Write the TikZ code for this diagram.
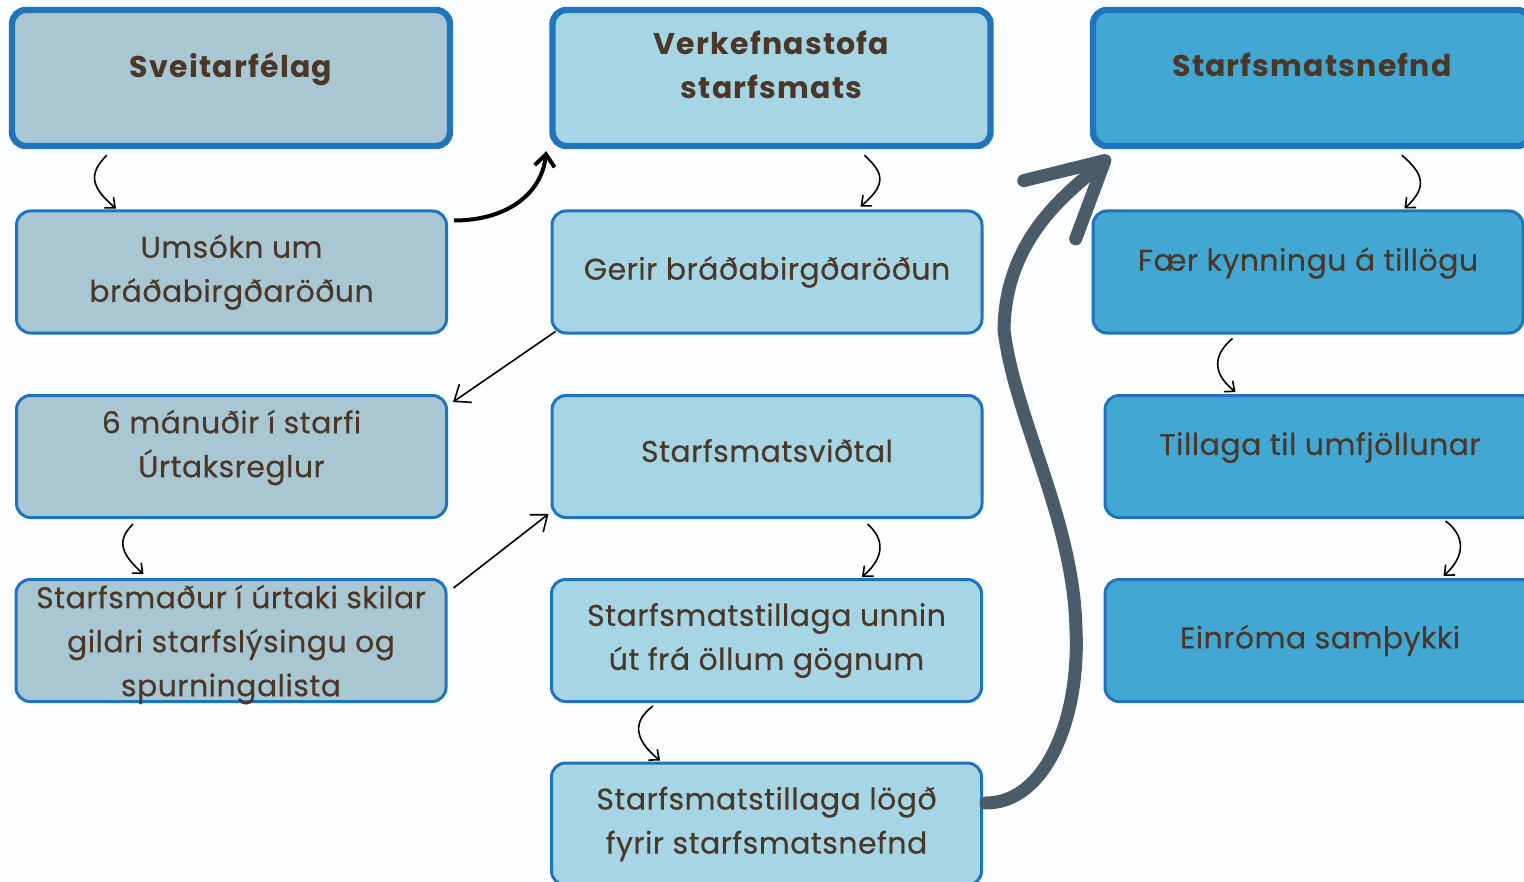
\documentclass[tikz,border=0pt]{standalone}
\usepackage{fontspec}
\setmainfont{Poppins}[LetterSpace=1.5,UprightFeatures={FakeBold=0.3},
                      BoldFeatures={LetterSpace=4}]
\usetikzlibrary{arrows.meta,calc}

\definecolor{paper}{HTML}{FBFDFE}
\definecolor{boxgrey}{HTML}{A9C6D3}
\definecolor{boxlight}{HTML}{A6D5E5}
\definecolor{boxdeep}{HTML}{43A7D4}
\definecolor{edgeblue}{HTML}{1F74BA}
\definecolor{inkbrown}{HTML}{4A3728}
\definecolor{bigarrow}{HTML}{4A5C69}

\begin{document}
\begin{tikzpicture}[x=0.5pt,y=-0.5pt,->,>={Straight Barb[length=4pt,width=7pt]},
                    line width=0.8pt,
                    box/.style={draw=edgeblue,line width=1.5pt,rounded corners=7pt,
                      minimum width=215pt,minimum height=61pt,inner sep=0pt,
                      align=center,text=inkbrown,font=\fontsize{15}{22}\selectfont},
                    lifted/.style={text depth=13pt},
                    head/.style={box,lifted,line width=3.2pt,minimum width=219pt,
                      minimum height=68pt,font=\bfseries\fontsize{15}{22}\selectfont},
                    long/.style={>={Straight Barb[length=7pt,width=11pt]}},
                    swoop/.style={line width=2pt,>={Straight Barb[length=6pt,width=10pt]}},
                    big/.style={draw=bigarrow,line width=6.5pt,line cap=round,
                      >={Straight Barb[length=37pt,width=39pt,round]}}]
  \fill[paper] (0,0) rectangle (1524,882);
  \useasboundingbox (0,0) rectangle (1524,882);
  \clip (0,0) rectangle (1524,882);

  % columns
  \node[head,fill=boxgrey]  (sveit) at (231,78)   {Sveitarfélag};
  \node[head,fill=boxlight] (verk)  at (771.5,78) {Verkefnastofa\\starfsmats};
  \node[head,fill=boxdeep]  (nefnd) at (1312,78)  {Starfsmatsnefnd};

  \node[box,fill=boxgrey]        (umsokn)  at (231.5,272)   {Umsókn um\\bráðabirgðaröðun};
  \node[box,lifted,fill=boxgrey] (manudir) at (231.5,456.5) {6 mánuðir í starfi\\Úrtaksreglur};
  \node[box,text depth=0pt,fill=boxgrey] (urtak) at (231,640.5) {Starfsmaður í úrtaki skilar\\gildri starfslýsingu og\\spurningalista};

  \node[box,fill=boxlight] (gerir)  at (767,272)     {Gerir bráðabirgðaröðun};
  \node[box,text depth=6pt,fill=boxlight] (vidtal) at (767,456.5) {Starfsmatsviðtal};
  \node[box,fill=boxlight] (unnin)  at (766.5,640.5) {Starfsmatstillaga unnin\\út frá öllum gögnum};
  \node[box,fill=boxlight] (logd)   at (766.5,824)   {Starfsmatstillaga lögð\\fyrir starfsmatsnefnd};

  \node[box,lifted,fill=boxdeep] (kynning)   at (1308,272)   {Fær kynningu á tillögu};
  \node[box,lifted,fill=boxdeep] (umfjollun) at (1320,456.5) {Tillaga til umfjöllunar};
  \node[box,fill=boxdeep]        (samthykki) at (1320,640.5) {Einróma samþykki};

  % small curls
  \draw ($(sveit.south west)+(98,6)$) .. controls +(-18,18) and +(-26,-22) .. ($(umsokn.north west)+(101,-1)$);
  \draw ($(manudir.south west)+(118,5)$) .. controls +(-15,15) and +(-25,-22) .. ($(urtak.north west)+(129,-4)$);
  \draw ($(verk.south west)+(315,6)$) .. controls +(20,18) and +(26,-22) .. ($(gerir.north west)+(310,-3)$);
  \draw ($(vidtal.south west)+(317,5)$) .. controls +(17,15) and +(23,-20) .. ($(unnin.north west)+(312,-1)$);
  \draw ($(unnin.south west)+(103,3)$) .. controls +(-20,15) and +(-27,-22) .. ($(logd.north west)+(110,-1)$);
  \draw ($(nefnd.south west)+(312,6)$) .. controls +(21,18) and +(24,-22) .. ($(kynning.north west)+(313,-1)$);
  \draw ($(kynning.south west)+(141,4)$) .. controls +(-18,15) and +(-25,-20) .. ($(umfjollun.north west)+(132,-2)$);
  \draw ($(umfjollun.south west)+(342,2)$) .. controls +(20,15) and +(22,-20) .. ($(samthykki.north west)+(340,-2)$);

  % across the columns
  \draw[swoop] ($(umsokn.north east)+(6,11)$) .. controls +(50,0) and +(-5,45) .. ($(verk.south west)+(-3,2)$);
  \draw[long] ($(gerir.south west)+(5,-3)$) -- ($(manudir.north east)+(5,8)$);
  \draw[long] ($(urtak.north east)+(6,10)$) -- ($(vidtal.south west)+(-2,-5)$);

  \draw[big] ($(logd.east)+(3,-21)$) .. controls (1045,803) and (1080,720) .. (1076,630)
             .. controls (1074,520) and (1015,420) .. (1004,330)
             .. controls (1005,235) and (1073,189) .. ($(nefnd.south west)+(20,7)$);
\end{tikzpicture}
\end{document}
